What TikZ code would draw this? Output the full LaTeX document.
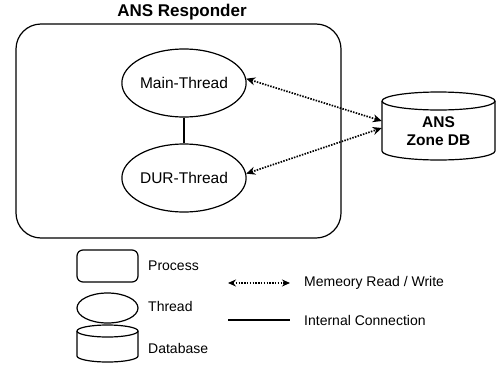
\documentclass[tikz,border=0pt]{standalone}
\usepackage{fontspec}
\setmainfont{Liberation Sans}
\usetikzlibrary{arrows.meta,shapes.geometric}
\begin{document}
\begin{tikzpicture}[x=1pt,y=1pt,
  lw/.style={line width=1.2pt},
  thread/.style={ellipse,draw,lw,minimum width=122pt,minimum height=68pt,inner sep=0pt,font=\fontsize{15.5}{17}\selectfont},
  dots/.style={line width=1.7pt,dash pattern=on 1.5pt off 1.3pt},
  rw/.style={dots,{Stealth[length=9pt,width=8pt]}-{Stealth[length=9pt,width=8pt]}},
  lbl/.style={anchor=west,inner sep=0pt,font=\fontsize{14}{16}\selectfont}
]
\useasboundingbox (0,0) rectangle (500,-364);
% process box
\node[draw,lw,rounded corners=25pt,minimum width=325pt,minimum height=214pt,inner sep=0pt] (proc) at (178.5,-131) {};
\node[font=\bfseries\fontsize{17}{19}\selectfont,inner sep=0pt] (title) at (182,-12) {ANS Responder};
\node[thread] (main) at (184,-83) {Main-Thread};
\node[thread] (dur) at (184,-178) {DUR-Thread};
\draw[lw] (main) -- (dur);
% database
\node[minimum width=113pt,minimum height=68pt,inner sep=0pt,align=center,font=\bfseries\fontsize{15.5}{17.5}\selectfont] (db) at (438.5,-131) {ANS\\Zone DB};
\draw[lw] (382,-101) arc (180:-180:56.5 and 9);
\draw[lw] (382,-101) -- (382,-151) arc (180:360:56.5 and 9) -- (495,-101);
\draw[rw] (main.4) -- ([yshift=10pt]db.west);
\draw[rw] (dur.4) -- ([yshift=3pt]db.west);
% legend
\node[draw,lw,rounded corners=6pt,minimum width=61pt,minimum height=32pt,inner sep=0pt] (lproc) at (107.5,-266) {};
\node[lbl] (tproc) at (148,-266) {Process};
\node[ellipse,draw,lw,minimum width=61pt,minimum height=30pt,inner sep=0pt] (lthr) at (107.5,-308) {};
\node[lbl] (tthr) at (148,-306) {Thread};
\node[minimum width=61pt,minimum height=37pt,inner sep=0pt] (ldb) at (107.5,-343.5) {};
\draw[lw] (77,-331) arc (180:-180:30.5 and 6);
\draw[lw] (77,-331) -- (77,-356) arc (180:360:30.5 and 6) -- (138,-331);
\node[lbl] (tdb) at (148,-348) {Database};
\coordinate (a1) at (228,-283);
\coordinate (a2) at (290,-283);
\draw[dots,{Stealth[length=8pt,width=7pt]}-{Stealth[length=8pt,width=7pt]}] (a1) -- (a2);
\node[lbl] (tarr) at (304,-283) {Memeory Read / Write};
\coordinate (c1) at (228,-320);
\coordinate (c2) at (290,-320);
\draw[lw] (c1) -- (c2);
\node[lbl] (tcon) at (304,-320) {Internal Connection};
\end{tikzpicture}
\end{document}
